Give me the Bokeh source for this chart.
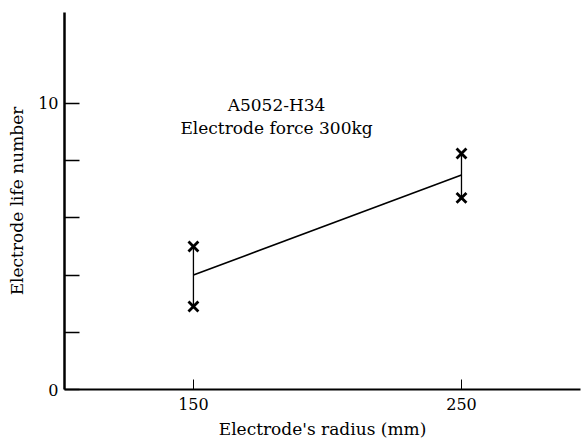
from bokeh.plotting import figure
from bokeh.models import FixedTicker, Range1d
from bokeh.core.properties import value
from bokeh.embed import file_html
from bokeh.resources import INLINE

# Data
radius = [150, 250]
life_high = [5.0, 8.25]
life_low = [2.9, 6.7]
life_mean = [4.0, 7.5]

x_ticks = [150, 250]
y_ticks = [0, 2, 4, 6, 8, 10]
y_tick_labels = {0: "0", 2: "", 4: "", 6: "", 8: "", 10: "10"}

note_x = [181, 181]
note_y = [9.93, 9.13]
note_text = ["A5052-H34", "Electrode force 300kg"]

FONT = "DejaVu Serif"

p = figure(width=582, height=444,
           x_range=Range1d(101.9, 294.4), y_range=Range1d(0, 13.18),
           output_backend="svg", toolbar_location=None,
           min_border_left=64, min_border_right=2,
           min_border_top=12, min_border_bottom=55)
p.outline_line_color = None
p.xgrid.visible = False
p.ygrid.visible = False
p.background_fill_color = "white"
p.border_fill_color = "white"

# range bars
p.segment(x0=radius, y0=life_low, x1=radius, y1=life_high,
          line_color="black", line_width=1.3)
# mean line
p.line(radius, life_mean, line_color="black", line_width=1.6)
# data points
p.scatter(radius, life_high, marker="x", size=14, line_width=2.8, line_color="black")
p.scatter(radius, life_low, marker="x", size=14, line_width=2.8, line_color="black")

p.text(x=note_x, y=note_y, text=note_text, text_font=value(FONT),
       text_font_size="17px", text_align="center", text_baseline="middle",
       text_color="black")

# x axis
xa = p.xaxis[0]
xa.ticker = FixedTicker(ticks=x_ticks)
xa.minor_tick_line_color = None
xa.major_tick_in = 10
xa.major_tick_out = 0
xa.major_tick_line_width = 1
xa.axis_line_width = 2.2
xa.axis_line_color = "black"
xa.major_label_text_font = FONT
xa.major_label_text_font_size = "16px"
xa.major_label_text_color = "black"
xa.major_label_standoff = 8
xa.axis_label = "Electrode's radius (mm)"
xa.axis_label_text_font = FONT
xa.axis_label_text_font_size = "17px"
xa.axis_label_text_font_style = "normal"
xa.axis_label_text_color = "black"
xa.axis_label_standoff = 6

# y axis
ya = p.yaxis[0]
ya.ticker = FixedTicker(ticks=y_ticks)
ya.major_label_overrides = y_tick_labels
ya.minor_tick_line_color = None
ya.major_tick_in = 15
ya.major_tick_out = 0
ya.major_tick_line_width = 1.5
ya.axis_line_width = 2.5
ya.axis_line_color = "black"
ya.major_label_text_font = FONT
ya.major_label_text_font_size = "16px"
ya.major_label_text_color = "black"
ya.major_label_standoff = 6
ya.axis_label = "Electrode life number"
ya.axis_label_text_font = FONT
ya.axis_label_text_font_size = "17px"
ya.axis_label_text_font_style = "normal"
ya.axis_label_text_color = "black"
ya.axis_label_standoff = 8

open("out.html", "w").write(file_html(p, INLINE))
